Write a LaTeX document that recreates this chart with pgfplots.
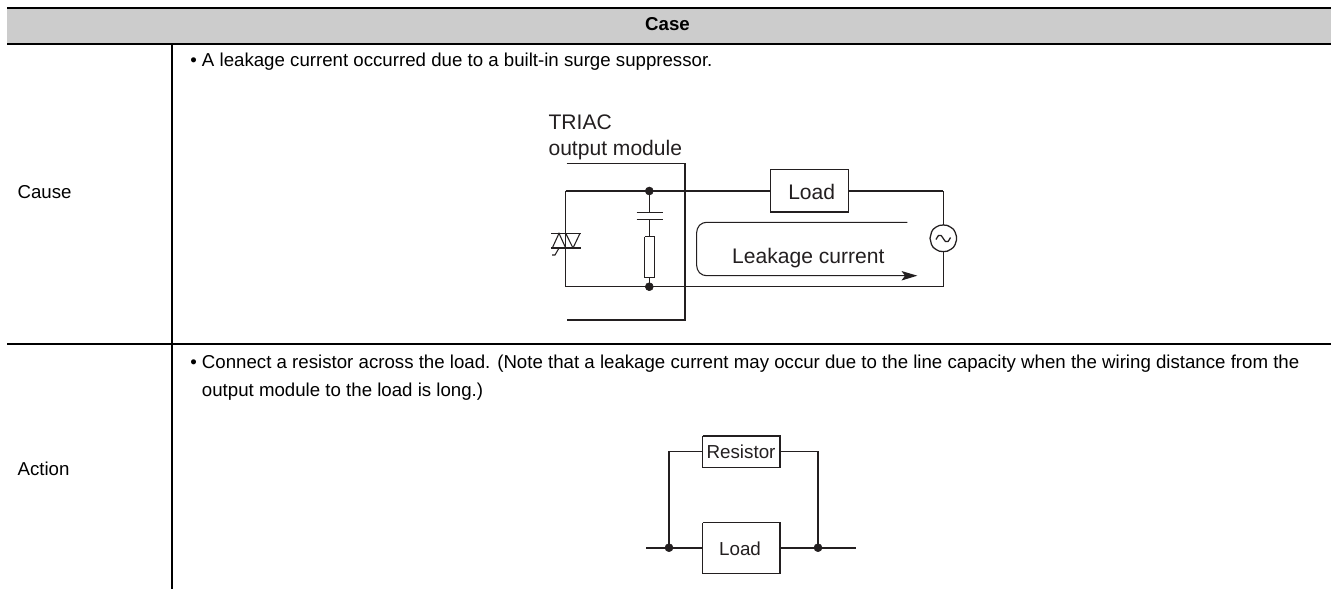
\documentclass[border=0pt]{standalone}
\usepackage{pgfplots}
\pgfplotsset{compat=1.18}
\usepackage{fontspec}
\setmainfont{Liberation Sans}
\definecolor{hd}{HTML}{CCCCCC}
\definecolor{ink}{HTML}{231F20}
\tikzset{
  tt/.style={font=\fontsize{14}{16}\selectfont,text=black,inner sep=0pt,anchor=base west},
  dt/.style={font=\fontsize{15.8}{18}\selectfont,text=ink,inner sep=0pt},
  ds/.style={font=\fontsize{14.1}{16}\selectfont,text=ink,inner sep=0pt},
  rule/.style={draw=black,line width=1.5pt},
  thick wire/.style={draw=ink,line width=1.2pt},
  wire/.style={draw=ink,line width=0.95pt},
  thin wire/.style={draw=ink,line width=0.8pt},
}
\begin{document}
\begin{tikzpicture}[x=1pt,y=1pt]
\begin{axis}[
  scale only axis, width=999pt, height=441.75pt,
  xmin=0, xmax=1332, ymin=0, ymax=589, y dir=reverse,
  hide axis, clip=false,
]
% page extent
\addplot[fill=white,draw=none] coordinates {(0,0)(1332,0)(1332,589)(0,589)} --cycle;
% header
\addplot[fill=hd,draw=none] coordinates {(7,8)(1331,8)(1331,43)(7,43)} --cycle;
\addplot[rule] coordinates {(7,8)(1331,8)};
\addplot[rule] coordinates {(7,43.5)(1331,43.5)};
\addplot[rule] coordinates {(172,43.5)(172,589)};
\addplot[rule] coordinates {(7,344.3)(1331,344.3)};
\node[font=\fontsize{14}{16}\bfseries\selectfont,inner sep=0pt] at (axis cs:667.5,24.5) {Case};
\node[tt] at (axis cs:17.3,198.3) {Cause};
\node[tt] at (axis cs:17.3,475) {Action};
\node[tt] at (axis cs:190,66.7) {• A leakage current occurred due to a built-in surge suppressor.};
\node[tt] at (axis cs:190,368) {• Connect a resistor across the load. (Note that a leakage current may occur due to the line capacity when the wiring distance from the};
\node[tt] at (axis cs:201.7,396.7) {output module to the load is long.)};
% module outline
\addplot[thin wire] coordinates {(566.7,163.7)(685,163.7)(685,320)(566.7,320)};
\node[dt,anchor=base west] at (axis cs:548.3,129) {TRIAC};
\node[dt,anchor=base west] at (axis cs:548.3,155) {output module};
% main circuit
\addplot[thick wire] coordinates {(565.7,191)(770.7,191)};
\addplot[thick wire] coordinates {(848.3,191)(943.3,191)};
\addplot[wire] coordinates {(943.3,191)(943.3,225)};
\addplot[wire] coordinates {(943.3,251.7)(943.3,286.5)(565.7,286.5)(565.7,191)};
\addplot[only marks,mark=*,mark size=3pt,mark options={fill=ink,draw=ink}] coordinates {(649.3,191)(649.3,286.7)};
% capacitor and resistor
\addplot[wire] coordinates {(649.3,191)(649.3,212.7)};
\addplot[wire] coordinates {(636.7,212.7)(662.7,212.7)};
\addplot[wire] coordinates {(636.7,219.7)(662.7,219.7)};
\addplot[wire] coordinates {(649.3,219.7)(649.3,236.7)};
\addplot[wire] coordinates {(644.7,236.7)(654.7,236.7)(654.7,277.3)(644.7,277.3)(644.7,236.7)};
\addplot[wire] coordinates {(649.3,277.3)(649.3,286.7)};
% triac
\addplot[thin wire] coordinates {(551.3,233.3)(581.3,233.3)};
\addplot[thin wire] coordinates {(551.3,248)(581.3,248)};
\addplot[thin wire] coordinates {(552.3,248)(559,233.3)(565.7,248)};
\addplot[thin wire] coordinates {(565.7,233.3)(573,248)(580,233.3)};
\addplot[thin wire] coordinates {(559,248)(555,255)(552,255)};
% load box
\addplot[wire] coordinates {(770.7,169.3)(848.3,169.3)(848.3,212)(770.7,212)(770.7,169.3)};
\node[dt] at (axis cs:811.7,191.7) {Load};
% AC source
\addplot[wire,smooth] coordinates {(936,239.5)(938.5,235.5)(941,235.5)(943.3,238.5)(945.5,241.5)(948,241.5)(950.5,237.5)};
\addplot[wire,smooth,tension=0.9] coordinates {(956.6,238.3)(955.1,244.5)(950.7,249.4)(943.3,251.6)(935.9,249.4)(931.5,244.5)(930,238.3)(931.5,232.1)(935.9,227.2)(943.3,225)(950.7,227.2)(955.1,232.1)(956.6,238.3)};
% leakage loop
\addplot[thin wire] coordinates {(907.3,222.3)(706.7,222.3)(703,223)(699.5,225.2)(697.4,228.7)(696.7,232.3)(696.7,265.7)(697.4,269.3)(699.5,272.8)(703,275)(706.7,275.7)(905,275.7)};
\addplot[fill=ink,draw=none] coordinates {(917.3,275.7)(901.5,271)(905,275.7)(901.5,280.5)} --cycle;
\node[dt] at (axis cs:808.3,258.3) {Leakage current};
% action circuit
\addplot[thick wire] coordinates {(646,547.7)(702.7,547.7)};
\addplot[thick wire] coordinates {(780,547.7)(855.7,547.7)};
\addplot[wire] coordinates {(669,547.7)(669,451.7)(702.7,451.7)};
\addplot[wire] coordinates {(780,451.7)(818,451.7)(818,547.7)};
\addplot[only marks,mark=*,mark size=3pt,mark options={fill=ink,draw=ink}] coordinates {(669,547.7)(818,547.7)};
\addplot[wire] coordinates {(702.7,436)(780,436)(780,467.3)(702.7,467.3)(702.7,436)};
\addplot[wire] coordinates {(702.7,522.7)(780,522.7)(780,573.3)(702.7,573.3)(702.7,522.7)};
\node[ds] at (axis cs:741,452) {Resistor};
\node[ds] at (axis cs:740,548.5) {Load};
\end{axis}
\end{tikzpicture}
\end{document}
